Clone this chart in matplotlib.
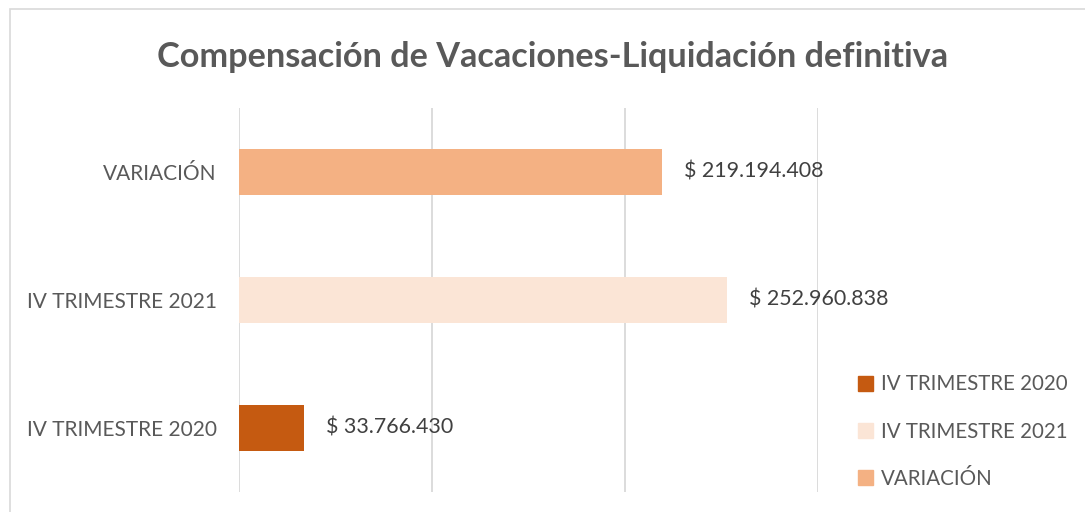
import matplotlib.pyplot as plt
from matplotlib.patches import Rectangle, Patch

categorias = ['IV TRIMESTRE 2020', 'IV TRIMESTRE 2021', 'VARIACIÓN']
valores = [33766430, 252960838, 219194408]
etiquetas = ['$ 33.766.430', '$ 252.960.838', '$ 219.194.408']
colores = ['#C55A11', '#FBE5D6', '#F4B183']

plt.rcParams['font.family'] = ['Lato', 'DejaVu Sans']
gris = '#595959'

fig = plt.figure(figsize=(10.85, 5.12), dpi=100)
ax = fig.add_axes([239/1085, 1-492/512, (818-239)/1085, (492-108)/512])

ypos = range(len(categorias))
ax.barh(ypos, valores, height=0.355, color=colores)
ax.set_xlim(0, 300000000)
ax.set_ylim(-0.5, 2.5)
ax.set_xticks([0, 100000000, 200000000, 300000000])
ax.set_xticklabels([])
ax.set_yticks(list(ypos))
ax.set_yticklabels(categorias, fontsize=15, color=gris)
ax.tick_params(length=0, pad=16)
ax.grid(axis='x', color='#D9D9D9', linewidth=1.3)
ax.set_axisbelow(True)
for s in ax.spines.values():
    s.set_visible(False)

for y, v, t in zip(ypos, valores, etiquetas):
    ax.annotate(t, (v, y), xytext=(15.5, 0), textcoords='offset points',
                va='center', ha='left', fontsize=15.4, color='#404040')

fig.text(553/1085, 1-57/512, 'Compensación de Vacaciones-Liquidación definitiva',
         ha='center', va='center', fontsize=24.7, fontweight='bold', color=gris)

handles = [Patch(color=c) for c in colores]
fig.legend(handles, categorias, loc='upper left', bbox_to_anchor=(839/1085, 1-356/512),
           frameon=False, fontsize=14.8, labelcolor=gris, handlelength=0.75,
           handleheight=0.75, handletextpad=0.4, labelspacing=1.32)

fig.patches.append(Rectangle((10/1085, -0.1), 1.2, 1-9/512+0.1, transform=fig.transFigure,
                             fill=False, edgecolor='#D9D9D9', linewidth=1.2))

fig.savefig('out.png', dpi=100)
